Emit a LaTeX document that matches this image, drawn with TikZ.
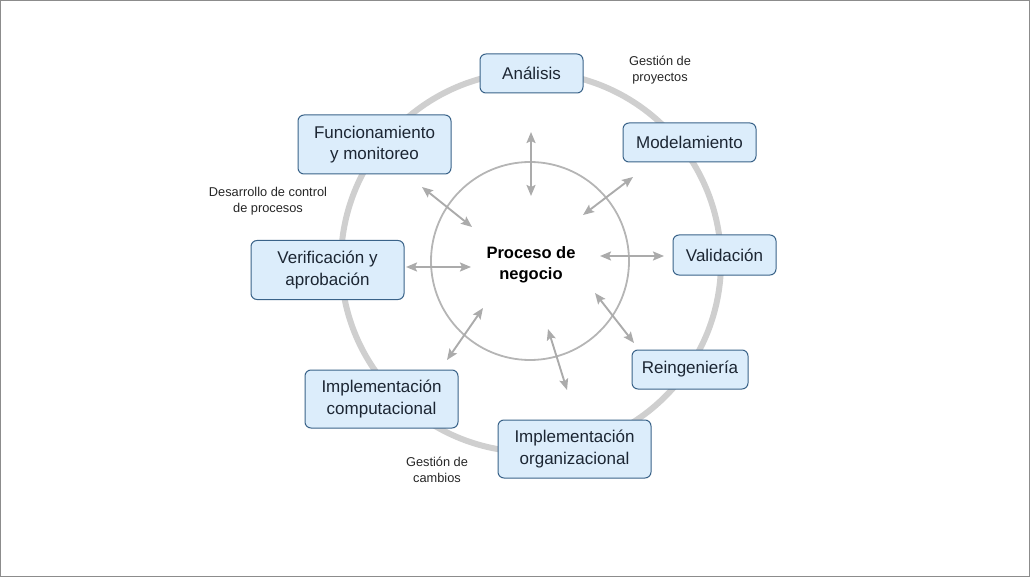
\documentclass[tikz,border=0pt]{standalone}
\usepackage{fontspec}
\setmainfont{Liberation Sans}
\usetikzlibrary{arrows.meta}
\definecolor{boxfill}{HTML}{DCEDFB}
\definecolor{boxline}{HTML}{3A6389}
\definecolor{boxtext}{HTML}{1C2633}
\definecolor{ringc}{HTML}{CFCFCF}
\definecolor{innerc}{HTML}{B5B5B5}
\definecolor{arrc}{HTML}{ABABAB}
\tikzset{
  stagebox/.style={draw=boxline, line width=1pt, fill=boxfill, rounded corners=6pt,
    align=center, inner sep=0pt, text=boxtext, font=\fontsize{17}{21.5}\selectfont},
  sidelabel/.style={align=center, font=\fontsize{12.8}{15.5}\selectfont, text=black!85},
  linkarrow/.style={draw=arrc, line width=1.9pt, {Stealth[length=11pt,width=9pt,inset=2pt]}-{Stealth[length=11pt,width=9pt,inset=2pt]}},
}
\begin{document}
\begin{tikzpicture}[x=1pt,y=-1pt]
\useasboundingbox (0,0) rectangle (1030,577);
\draw[draw=gray!90, line width=1pt] (0.5,0.5) rectangle (1029.5,576.5);
% rings
\draw[ringc, line width=6pt] (531,262) circle[radius=190];
\draw[innerc, line width=1.8pt] (530,261) circle[radius=99];
% center text
\node[font=\bfseries\fontsize{16.5}{21.5}\selectfont, align=center] (center) at (531,265) {Proceso de\\negocio};
% boxes
\node[stagebox, minimum width=103pt, minimum height=39pt] (ana) at (531.5,73.5) {Análisis};
\node[stagebox, minimum width=133pt, minimum height=39pt] (mod) at (689.5,142.5) {Modelamiento};
\node[stagebox, minimum width=103pt, minimum height=40pt] (val) at (724.5,255) {Validación};
\node[stagebox, minimum width=116pt, minimum height=39pt] (rei) at (690,369.5) {Reingeniería};
\node[stagebox, minimum width=153pt, minimum height=58pt] (org) at (574.5,449) {Implementación\\organizacional};
\node[stagebox, minimum width=153pt, minimum height=58pt] (comp) at (381.5,399) {Implementación\\computacional};
\node[stagebox, minimum width=153pt, minimum height=59pt] (ver) at (327.5,270) {Verificación y\\aprobación};
\node[stagebox, minimum width=153pt, minimum height=59pt] (fun) at (374.5,144.5) {Funcionamiento\\y monitoreo};
% side labels
\node[sidelabel] (gp) at (660,70) {Gestión de\\proyectos};
\node[sidelabel] (dcp) at (268,201) {Desarrollo de control\\de procesos};
\node[sidelabel] (gc) at (437,470) {Gestión de\\cambios};
% arrow endpoints
\coordinate (a1) at (531,132); \coordinate (a2) at (531,196);
\coordinate (m1) at (583,215); \coordinate (m2) at (633,177);
\coordinate (v1) at (600,256); \coordinate (v2) at (664,256);
\coordinate (r1) at (595,293); \coordinate (r2) at (634,343);
\coordinate (o1) at (548,329); \coordinate (o2) at (567,390);
\coordinate (c1) at (483,308); \coordinate (c2) at (447,360);
\coordinate (e1) at (406,267); \coordinate (e2) at (471,267);
\coordinate (f1) at (422,187); \coordinate (f2) at (472,227);
\draw[linkarrow] (a1) -- (a2);
\draw[linkarrow] (m1) -- (m2);
\draw[linkarrow] (v1) -- (v2);
\draw[linkarrow] (r1) -- (r2);
\draw[linkarrow] (o1) -- (o2);
\draw[linkarrow] (c1) -- (c2);
\draw[linkarrow] (e1) -- (e2);
\draw[linkarrow] (f1) -- (f2);
\end{tikzpicture}
\end{document}
